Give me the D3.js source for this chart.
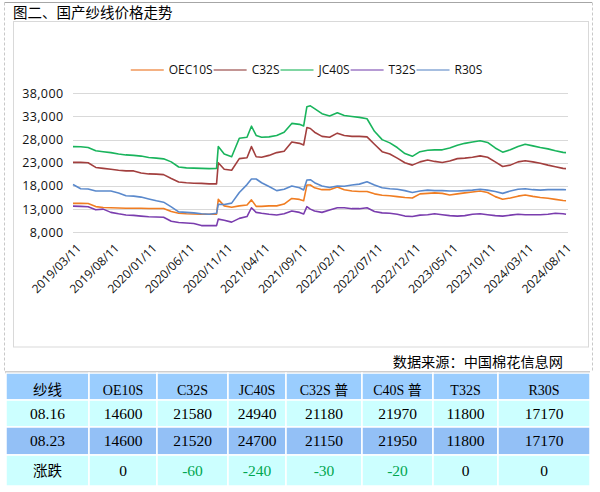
<!DOCTYPE html>
<html><head><meta charset="utf-8">
<script src="https://cdn.jsdelivr.net/npm/d3@7"></script>
<style>
html,body{margin:0;padding:0;background:#fff;}
svg{display:block;}
</style></head>
<body>
<svg id="c" width="600" height="492"></svg>
<script>
// ---------------- DATA ----------------
const title = "图二、国产纱线价格走势";
const source = "数据来源：中国棉花信息网";
const seriesNames = ["OEC10S", "C32S", "JC40S", "T32S", "R30S"];
const dates = [
 "2019-03-11","2019-04-11","2019-05-11","2019-06-11","2019-07-11","2019-08-11","2019-09-11","2019-10-11","2019-11-11","2019-12-11",
 "2020-01-11","2020-02-11","2020-03-11","2020-04-11","2020-05-11","2020-06-11","2020-07-11","2020-08-11","2020-09-11","2020-10-11","2020-10-18",
 "2020-11-11","2020-12-11","2021-01-11","2021-02-11","2021-03-01","2021-03-20","2021-04-11","2021-05-11","2021-06-11","2021-07-11",
 "2021-08-11","2021-09-11","2021-09-28","2021-10-11","2021-10-25","2021-11-11","2021-12-11",
 "2022-01-11","2022-02-11","2022-03-11","2022-04-11","2022-05-11","2022-06-11","2022-07-11","2022-08-11","2022-09-11","2022-10-11","2022-11-11","2022-12-11",
 "2023-01-11","2023-02-11","2023-03-11","2023-04-11","2023-05-11","2023-06-11","2023-07-11","2023-08-11","2023-09-11","2023-10-11","2023-11-11","2023-12-11",
 "2024-01-11","2024-02-11","2024-03-11","2024-04-11","2024-05-11","2024-06-11","2024-07-11","2024-08-11","2024-08-23"
];
const oec10s = [
 14250,14250,14200,13550,13350,13300,13250,13200,13200,13200,
 13150,13150,13150,12500,12100,12000,11950,11900,11900,11900,15100,
 13700,13400,13700,13900,15000,13600,13600,13700,13700,14100,
 15300,15100,14830,18200,18200,17600,17200,
 17200,17800,17200,16900,16800,16800,16300,16000,15900,15700,15500,15400,
 16300,16400,16500,16400,16050,16300,16500,16700,16900,16600,15700,15150,
 15400,15800,16050,15750,15500,15350,15100,14850,14800
];
const c32s = [
 23100,23100,23000,22000,21800,21600,21400,21250,21250,20800,
 20600,20550,20450,19600,18850,18700,18600,18550,18450,18450,23000,
 21600,21400,23900,24100,26500,24300,24200,24600,25200,25500,
 27500,27200,26850,30600,30400,29600,28700,
 28500,29400,28900,28700,28700,28600,27000,25400,24900,24000,23000,22500,
 23200,23600,23300,23050,23400,23900,24000,24200,24500,24200,23200,22200,
 22500,23200,23450,23200,22900,22500,22150,21800,21750
];
const jc40s = [
 26500,26450,26300,25600,25400,25200,24900,24700,24600,24450,
 24150,24000,23850,23200,22100,21900,21850,21800,21750,21800,26500,
 24900,24300,28300,28500,30900,28900,28500,28600,28900,29600,
 31500,31300,30950,35100,35300,34700,33600,
 33100,33800,33200,33000,32800,32500,29800,28000,27300,26300,25000,24400,
 25400,25700,25800,25800,26200,26800,27200,27500,27750,27400,26200,25300,
 25800,26500,27000,26650,26300,26000,25600,25250,25200
];
const t32s = [
 13650,13600,13500,12850,13000,12300,12000,11750,11650,11500,
 11350,11300,11250,10400,10100,10000,9900,9450,9450,9450,10850,
 10600,10200,11000,11400,13300,12300,12100,11900,11750,12000,
 12600,12300,11960,13540,13000,12600,12300,
 12800,13300,13300,13100,13100,13300,12500,12200,12100,11900,11500,11400,
 11700,11800,12000,11800,11600,11500,11600,11900,12000,11800,11600,11500,
 11700,11900,11800,11800,11800,11900,12100,12000,11900
];
const r30s = [
 18300,17400,17350,16900,16900,16900,16500,15900,15800,15600,
 15200,14800,14500,13500,12400,12300,12200,12000,11900,12100,14050,
 14000,14300,16600,18300,19500,19500,18700,17900,17000,17300,
 18000,17600,17140,19300,19350,18700,18000,
 17650,18000,17950,18200,18400,18900,18200,17600,17400,17300,17000,16600,
 16900,17100,17000,17000,16900,16900,17000,17100,17300,17100,16800,16400,
 16900,17300,17400,17200,17100,17200,17200,17250,17170
];
const yTicks = [8000, 13000, 18000, 23000, 28000, 33000, 38000];
const xTickLabels = ["2019/03/11","2019/08/11","2020/01/11","2020/06/11","2020/11/11","2021/04/11","2021/09/11",
 "2022/02/11","2022/07/11","2022/12/11","2023/05/11","2023/10/11","2024/03/11","2024/08/11"];
const tableHeader = ["纱线","OE10S","C32S","JC40S","C32S 普","C40S 普","T32S","R30S"];
const row0816 = ["08.16","14600","21580","24940","21180","21970","11800","17170"];
const row0823 = ["08.23","14600","21520","24700","21150","21950","11800","17170"];
const rowChange = ["涨跌","0","-60","-240","-30","-20","0","0"];

// ---------------- STYLE ----------------
const lineColors = ["#F07D22", "#A23F3E", "#19B45C", "#7A3DAE", "#5A89CC"];
const legendColors = ["#F4B183", "#C39594", "#80D6A3", "#B69BD4", "#A6BEE0"];
const sansFont = "'Open Sans', 'Noto Sans', sans-serif";
const cjkFont = "'Noto Sans CJK SC', sans-serif";
const tableFont = "'Liberation Serif', 'Noto Sans CJK SC', serif";

const svg = d3.select("#c");
const parse = d3.timeParse("%Y-%m-%d");
const parseTick = d3.timeParse("%Y/%m/%d");

// outer frame
svg.append("line").attr("x1", 4.5).attr("x2", 592).attr("y1", 2.5).attr("y2", 2.5)
  .attr("stroke", "#A6A6A6").attr("stroke-width", 1);
[4.5, 592.5].forEach(xx => {
  svg.append("line").attr("x1", xx).attr("x2", xx).attr("y1", 2.5).attr("y2", 372)
    .attr("stroke", "#C8C8C8").attr("stroke-dasharray", "3,2");
});
// title
svg.append("text").attr("x", 13).attr("y", 18).attr("font-family", cjkFont)
  .attr("font-size", 14.5).attr("fill", "#000").text(title);

// chart frame
svg.append("rect").attr("x", 13.5).attr("y", 21.5).attr("width", 575).attr("height", 325.5)
  .attr("fill", "none").attr("stroke", "#D9D9D9");

// scales
const x = d3.scaleTime().domain([parse("2019-03-11"), parse("2024-08-31")]).range([73, 568]);
const y = d3.scaleLinear().domain([8000, 38000]).range([232.3, 93.3]);

// gridlines
svg.append("g").selectAll("line").data(yTicks).join("line")
  .attr("x1", 73).attr("x2", 568)
  .attr("y1", d => Math.round(y(d)) + 0.5).attr("y2", d => Math.round(y(d)) + 0.5)
  .attr("stroke", "#D9D9D9").attr("stroke-width", 1);

// y axis labels
const fmt = d3.format(",");
svg.append("g").selectAll("text").data(yTicks).join("text")
  .attr("x", 63.5).attr("y", d => y(d)).attr("dy", "0.36em")
  .attr("text-anchor", "end").attr("font-family", sansFont).attr("font-size", 12.5)
  .attr("letter-spacing", 0.4).attr("fill", "#111").text(d => fmt(d));

// x axis labels (rotated)
svg.append("g").selectAll("text").data(xTickLabels).join("text")
  .attr("transform", d => `translate(${x(parseTick(d)) + 6},${246}) rotate(-45)`)
  .attr("dy", "0.35em").attr("text-anchor", "end")
  .attr("font-family", sansFont).attr("font-size", 12).attr("fill", "#111").text(d => d);

// series
const allSeries = [oec10s, c32s, jc40s, t32s, r30s];
const line = d3.line().x(d => x(d.date)).y(d => y(d.v));
allSeries.forEach((vals, i) => {
  const pts = vals.map((v, k) => ({date: parse(dates[k]), v}));
  svg.append("path").datum(pts).attr("d", line).attr("fill", "none")
    .attr("stroke", lineColors[i]).attr("stroke-width", 1.6).attr("stroke-linejoin", "round");
});

// legend
const lg = svg.append("g");
const legendY = 70;
let items = [];
let cur = 0;
seriesNames.forEach((name, i) => {
  const g = lg.append("g");
  g.append("line").attr("x1", cur).attr("x2", cur + 33).attr("y1", legendY).attr("y2", legendY)
    .attr("stroke", legendColors[i]).attr("stroke-width", 2);
  const t = g.append("text").attr("x", cur + 38).attr("y", legendY).attr("dy", "0.36em")
    .attr("font-family", sansFont).attr("font-size", 12).attr("fill", "#111").text(name);
  const w = t.node().getComputedTextLength();
  cur += 38 + w + 1;
});
const legendW = cur - 1;
lg.attr("transform", `translate(${306.5 - legendW / 2},0)`);

// source
svg.append("text").attr("x", 563).attr("y", 367).attr("text-anchor", "end")
  .attr("font-family", cjkFont).attr("font-size", 14.2).attr("fill", "#000").text(source);

// table
const cols = [6, 89, 157, 228, 286, 362, 433, 498, 590];
const rowsY = [373, 400, 427, 455, 486];
const rowFills = ["#9ACDFE", "#CCFFFF", "#93C0F6", "#CCFFFF"];
const textY = [390, 413.5, 440.5, 470.5];
const tableRows = [tableHeader, row0816, row0823, rowChange];
svg.append("line").attr("x1", 5).attr("x2", 590).attr("y1", 372.5).attr("y2", 372.5)
  .attr("stroke", "#9E9E9E").attr("stroke-width", 2);
tableRows.forEach((row, r) => {
  row.forEach((cell, c) => {
    svg.append("rect").attr("x", cols[c]).attr("y", rowsY[r])
      .attr("width", cols[c + 1] - cols[c]).attr("height", rowsY[r + 1] - rowsY[r])
      .attr("fill", rowFills[r]).attr("stroke", "#fff").attr("stroke-width", 1.5);
    const isCJK = /[\u4e00-\u9fff]/.test(cell) && c === 0;
    const neg = r === 3 && c > 0 && cell.startsWith("-");
    svg.append("text").attr("x", (cols[c] + cols[c + 1]) / 2).attr("y", textY[r]).attr("dy", "0.36em")
      .attr("text-anchor", "middle")
      .attr("font-family", isCJK ? cjkFont : tableFont)
      .attr("font-size", isCJK ? 14.5 : (r === 0 ? 14 : 15.5))
      .attr("fill", neg ? "#00A650" : "#000").text(cell);
  });
});
</script>
</body></html>
